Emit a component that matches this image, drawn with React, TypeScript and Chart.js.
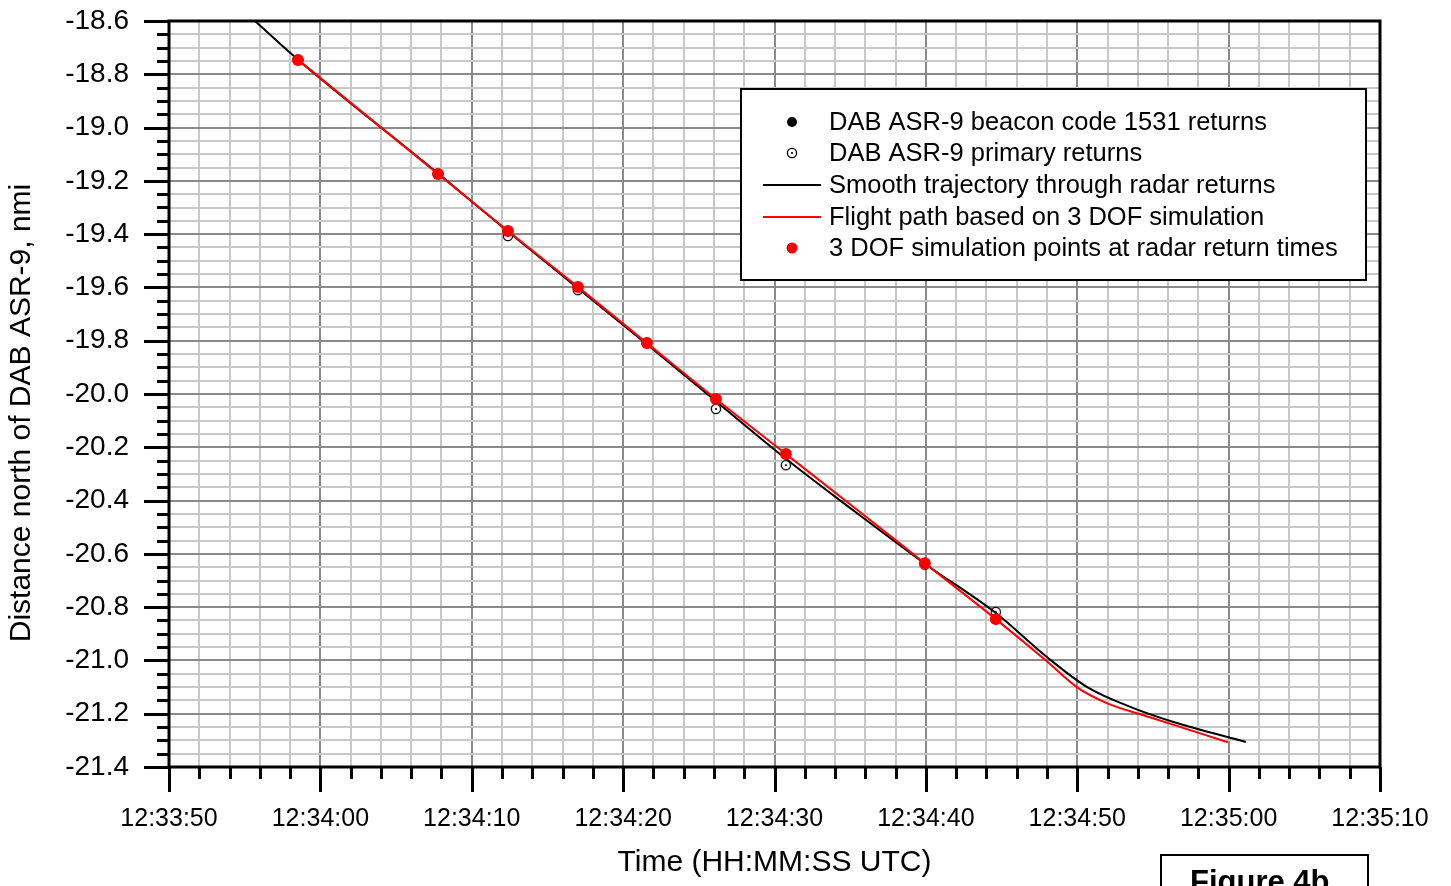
import React, { useEffect, useRef } from "react";
import { Chart, registerables } from "chart.js";

Chart.register(...registerables);

// Time axis: seconds after 12:33:50 UTC
const X_MIN = 0;
const X_MAX = 80;
const Y_MIN = -21.4;
const Y_MAX = -18.6;

const beaconT = [8.52, 17.77, 31.57];
const beaconY = [-18.746, -19.174, -19.809];

const primaryT = [22.39, 27.01, 36.13, 40.75, 49.93, 54.62];
const primaryY = [-19.407, -19.61, -20.056, -20.267, -20.64, -20.818];

const smoothT = [5.68, 8.52, 17.77, 22.39, 27.01, 31.57, 36.13, 40.75, 45.35, 49.93, 54.62, 57.99, 60.63, 63.67, 66.58, 71.14];
const smoothY = [-18.6, -18.745, -19.172, -19.39, -19.603, -19.813, -20.027, -20.243, -20.443, -20.637, -20.822, -20.987, -21.099, -21.178, -21.235, -21.306];

const simLineT = [8.52, 17.77, 22.39, 27.01, 31.57, 36.13, 40.75, 45.35, 49.93, 54.62, 57.99, 59.97, 61.95, 64.8, 69.95];
const simLineY = [-18.746, -19.174, -19.388, -19.598, -19.809, -20.019, -20.225, -20.43, -20.635, -20.845, -21.003, -21.1, -21.16, -21.213, -21.307];

const simPtT = [8.52, 17.77, 22.39, 27.01, 31.57, 36.13, 40.75, 49.93, 54.62];
const simPtY = [-18.746, -19.174, -19.388, -19.598, -19.809, -20.019, -20.225, -20.635, -20.845];

const legendLabels = [
  "DAB ASR-9 beacon code 1531 returns",
  "DAB ASR-9 primary returns",
  "Smooth trajectory through radar returns",
  "Flight path based on 3 DOF simulation",
  "3 DOF simulation points at radar return times",
];

const X_TITLE = "Time (HH:MM:SS UTC)";
const Y_TITLE = "Distance north of DAB ASR-9, nmi";
const FIGURE_LABEL = "Figure 4b";

const BASE_SECONDS = 12 * 3600 + 33 * 60 + 50;
const FONT = 'Arial, "Liberation Sans", sans-serif';

function fmtTime(s: number): string {
  const t = Math.round(BASE_SECONDS + s);
  const hh = Math.floor(t / 3600);
  const mm = Math.floor((t % 3600) / 60);
  const ss = t % 60;
  const p = (n: number) => String(n).padStart(2, "0");
  return `${p(hh)}:${p(mm)}:${p(ss)}`;
}

function zip(xs: number[], ys: number[]) {
  return xs.map((x, i) => ({ x, y: ys[i] }));
}

function makeOpenCircle(): HTMLCanvasElement {
  const c = document.createElement("canvas");
  c.width = 12;
  c.height = 12;
  const g = c.getContext("2d")!;
  g.strokeStyle = "#000";
  g.lineWidth = 1.3;
  g.beginPath();
  g.arc(6, 6, 4.6, 0, Math.PI * 2);
  g.fillStyle = "#fff";
  g.fill();
  g.stroke();
  g.fillStyle = "#000";
  g.beginPath();
  g.arc(6, 6, 1.1, 0, Math.PI * 2);
  g.fill();
  return c;
}

const isMajorX = (v: number) => Math.abs(Math.round(v)) % 10 === 0;
const isMajorY = (v: number) => Math.abs(Math.round(v * 20)) % 4 === 0;

export default function App() {
  const ref = useRef<HTMLCanvasElement | null>(null);

  useEffect(() => {
    if (!ref.current) return;
    const openCircle = makeOpenCircle();

    const framePlugin = {
      id: "framePlugin",
      afterDraw(chart: any) {
        const { ctx, chartArea } = chart;
        const xs = chart.scales.x;
        const ys = chart.scales.y;
        ctx.save();
        ctx.strokeStyle = "#000";
        ctx.lineWidth = 3;
        ctx.lineCap = "butt";
        // tick marks
        ctx.beginPath();
        for (let v = X_MIN; v <= X_MAX + 1e-9; v += 2) {
          const px = Math.round(xs.getPixelForValue(v)) + 0.5;
          const len = isMajorX(v) ? 25 : 12;
          ctx.moveTo(px, chartArea.bottom);
          ctx.lineTo(px, chartArea.bottom + len);
        }
        for (let i = 0; i <= Math.round((Y_MAX - Y_MIN) / 0.05); i++) {
          const v = Y_MIN + i * 0.05;
          const py = Math.round(ys.getPixelForValue(v)) + 0.5;
          const len = isMajorY(v) ? 25 : 12;
          ctx.moveTo(chartArea.left, py);
          ctx.lineTo(chartArea.left - len, py);
        }
        ctx.stroke();
        // frame
        ctx.strokeRect(chartArea.left, chartArea.top, chartArea.right - chartArea.left, chartArea.bottom - chartArea.top);

        // y-axis title
        ctx.save();
        ctx.translate(22, 413);
        ctx.rotate(-Math.PI / 2);
        ctx.font = `30px ${FONT}`;
        ctx.fillStyle = "#000";
        ctx.textAlign = "center";
        ctx.textBaseline = "middle";
        ctx.fillText(Y_TITLE, 0, 0);
        ctx.restore();

        // legend box
        const lx = 741, ly = 89, lw = 625, lh = 191;
        ctx.fillStyle = "#fff";
        ctx.fillRect(lx, ly, lw, lh);
        ctx.lineWidth = 2;
        ctx.strokeRect(lx, ly, lw, lh);
        const rows = [122, 153, 185, 217, 248];
        ctx.font = `25.5px ${FONT}`;
        ctx.textBaseline = "middle";
        ctx.textAlign = "left";
        rows.forEach((ry, i) => {
          ctx.fillStyle = "#000";
          ctx.fillText(legendLabels[i], 829, ry + 1);
        });
        // markers
        ctx.fillStyle = "#000";
        ctx.beginPath();
        ctx.arc(792, rows[0], 5, 0, Math.PI * 2);
        ctx.fill();
        ctx.drawImage(openCircle, 792 - 6, rows[1] - 6);
        ctx.lineWidth = 2;
        ctx.strokeStyle = "#000";
        ctx.beginPath();
        ctx.moveTo(763, rows[2]);
        ctx.lineTo(821, rows[2]);
        ctx.stroke();
        ctx.strokeStyle = "#ff0000";
        ctx.beginPath();
        ctx.moveTo(763, rows[3]);
        ctx.lineTo(821, rows[3]);
        ctx.stroke();
        ctx.fillStyle = "#ff0000";
        ctx.beginPath();
        ctx.arc(792, rows[4], 5.5, 0, Math.PI * 2);
        ctx.fill();

        // Figure 4b box
        ctx.strokeStyle = "#000";
        ctx.lineWidth = 2;
        ctx.strokeRect(1161, 855, 207, 60);
        ctx.fillStyle = "#000";
        ctx.font = `bold 31px ${FONT}`;
        ctx.textBaseline = "top";
        ctx.fillText(FIGURE_LABEL, 1190, 868);
        ctx.restore();
      },
    };

    const chart = new Chart(ref.current, {
      type: "scatter",
      data: {
        datasets: [
          {
            label: legendLabels[4],
            data: zip(simPtT, simPtY),
            showLine: false,
            pointRadius: 6,
            pointBorderWidth: 0,
            pointBackgroundColor: "#ff0000",
            pointBorderColor: "#ff0000",
            order: 0,
          },
          {
            label: legendLabels[3],
            data: zip(simLineT, simLineY),
            showLine: true,
            borderColor: "#ff0000",
            borderWidth: 2,
            pointRadius: 0,
            cubicInterpolationMode: "monotone",
            order: 1,
          },
          {
            label: legendLabels[2],
            data: zip(smoothT, smoothY),
            showLine: true,
            borderColor: "#000",
            borderWidth: 2,
            pointRadius: 0,
            cubicInterpolationMode: "monotone",
            order: 2,
          },
          {
            label: legendLabels[1],
            data: zip(primaryT, primaryY),
            showLine: false,
            pointStyle: openCircle as any,
            pointRadius: 5,
            order: 3,
          },
          {
            label: legendLabels[0],
            data: zip(beaconT, beaconY),
            showLine: false,
            pointRadius: 5,
            pointBackgroundColor: "#000",
            pointBorderColor: "#000",
            order: 4,
          },
        ],
      },
      options: {
        animation: false,
        responsive: false,
        maintainAspectRatio: false,
        layout: { padding: { top: 21, right: 71, left: 0, bottom: 0 }, autoPadding: false },
        plugins: {
          legend: { display: false },
          tooltip: { enabled: false },
        },
        scales: {
          x: {
            type: "linear",
            min: X_MIN,
            max: X_MAX,
            afterFit: (s: any) => {
              s.height = 119;
            },
            ticks: {
              stepSize: 2,
              autoSkip: false,
              maxRotation: 0,
              minRotation: 0,
              padding: 3,
              color: "#000",
              font: { family: FONT, size: 25 },
              callback: (v: any) => (isMajorX(Number(v)) ? fmtTime(Number(v)) : ""),
            },
            grid: {
              drawTicks: true,
              tickLength: 34,
              tickColor: "rgba(0,0,0,0)",
              lineWidth: 2,
              color: (c: any) => (isMajorX(c.tick?.value ?? 0) ? "#8a8a8a" : "#c8c8c8"),
            },
            border: { display: false },
            title: {
              display: true,
              text: X_TITLE,
              color: "#000",
              font: { family: FONT, size: 30 },
              padding: { top: 0, bottom: 5 },
            },
          },
          y: {
            type: "linear",
            min: Y_MIN,
            max: Y_MAX,
            afterFit: (s: any) => {
              s.width = 169;
            },
            ticks: {
              stepSize: 0.05,
              autoSkip: false,
              padding: 3,
              color: "#000",
              font: { family: FONT, size: 28 },
              callback: (v: any) => (isMajorY(Number(v)) ? Number(v).toFixed(1) : ""),
            },
            grid: {
              drawTicks: true,
              tickLength: 37,
              tickColor: "rgba(0,0,0,0)",
              lineWidth: 2,
              color: (c: any) => (isMajorY(c.tick?.value ?? 0) ? "#8a8a8a" : "#c8c8c8"),
            },
            border: { display: false },
            title: { display: false },
          },
        },
      },
      plugins: [framePlugin],
    });

    return () => chart.destroy();
  }, []);

  return (
    <div style={{ position: "fixed", left: 0, top: 0, width: 1451, height: 886, background: "#fff", overflow: "hidden" }}>
      <canvas ref={ref} width={1451} height={886} style={{ display: "block" }} />
    </div>
  );
}
